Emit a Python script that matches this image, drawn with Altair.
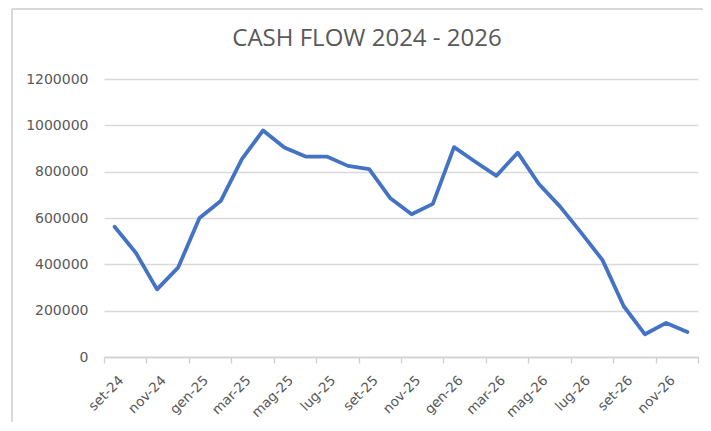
import altair as alt
import pandas as pd

months = ["set-24", "ott-24", "nov-24", "dic-24", "gen-25", "feb-25", "mar-25", "apr-25",
          "mag-25", "giu-25", "lug-25", "ago-25", "set-25", "ott-25", "nov-25", "dic-25",
          "gen-26", "feb-26", "mar-26", "apr-26", "mag-26", "giu-26", "lug-26", "ago-26",
          "set-26", "ott-26", "nov-26", "dic-26"]
values = [562000, 450000, 292000, 387000, 600000, 673000, 854000, 978000,
          904000, 865000, 865000, 825000, 811000, 685000, 616000, 661000,
          906000, 843000, 782000, 882000, 747000, 649000, 536000, 418000,
          219000, 98000, 147000, 108000]
y_ticks = [0, 200000, 400000, 600000, 800000, 1000000, 1200000]

df = pd.DataFrame({"idx": list(range(len(months))), "month": months, "value": values})
n = len(months)
month_list = "[" + ",".join("'" + m + "'" for m in months) + "]"

W, H = 594, 278
FONT = "Open Sans"
AXFONT = "DejaVu Sans"
GRAY = "#595959"

line = alt.Chart(df).transform_calculate(pos="datum.idx + 0.5").mark_line(
    color="#4472C4", strokeWidth=3.8, strokeJoin="round", strokeCap="round"
).encode(
    x=alt.X("pos:Q",
            scale=alt.Scale(domain=[0, n], nice=False, zero=False),
            axis=alt.Axis(values=list(range(0, n + 1, 2)),
                          labelExpr=f"datum.value < {n} ? {month_list}[datum.value] : ''",
                          labelAngle=-45, labelAlign="right", labelBaseline="top",
                          labelOffset=12, labelPadding=10, labelOverlap=False,
                          labelBound=False, labelFlush=False,
                          grid=False, domainColor="#d0d0d0", domainWidth=1.3,
                          tickColor="#d0d0d0", tickSize=6, tickWidth=1.3,
                          labelFont=AXFONT, labelFontSize=13.5, labelColor=GRAY,
                          title=None)),
    y=alt.Y("value:Q",
            scale=alt.Scale(domain=[0, 1200000], nice=False),
            axis=alt.Axis(values=y_ticks, format="d", domain=False, ticks=False,
                          gridColor="#d9d9d9", gridWidth=1.3, labelOverlap=False,
                          labelFont=AXFONT, labelFontSize=14, labelColor=GRAY,
                          labelPadding=16, title=None)),
)

border_left = alt.Chart(df).mark_rule(color="#d9d9d9", strokeWidth=1.5).encode(
    x=alt.value(-92), y=alt.value(-70), y2=alt.value(H + 70)
)
border_top = alt.Chart(df).mark_rule(color="#d9d9d9", strokeWidth=1.5).encode(
    x=alt.value(-92), x2=alt.value(W + 10), y=alt.value(-70)
)

chart = alt.layer(border_left, border_top, line).properties(
    width=W, height=H,
    title=alt.TitleParams("CASH FLOW 2024 - 2026", font=FONT, fontSize=24,
                          fontWeight="normal", color=GRAY, anchor="middle",
                          dx=-34, dy=62, offset=0, baseline="alphabetic"),
    autosize=alt.AutoSizeParams(type="none"),
    padding={"left": 96, "top": 71, "right": 5, "bottom": 65},
).configure_view(stroke=None)

chart.save("out.html", embed_options={"renderer": "svg", "actions": False})
